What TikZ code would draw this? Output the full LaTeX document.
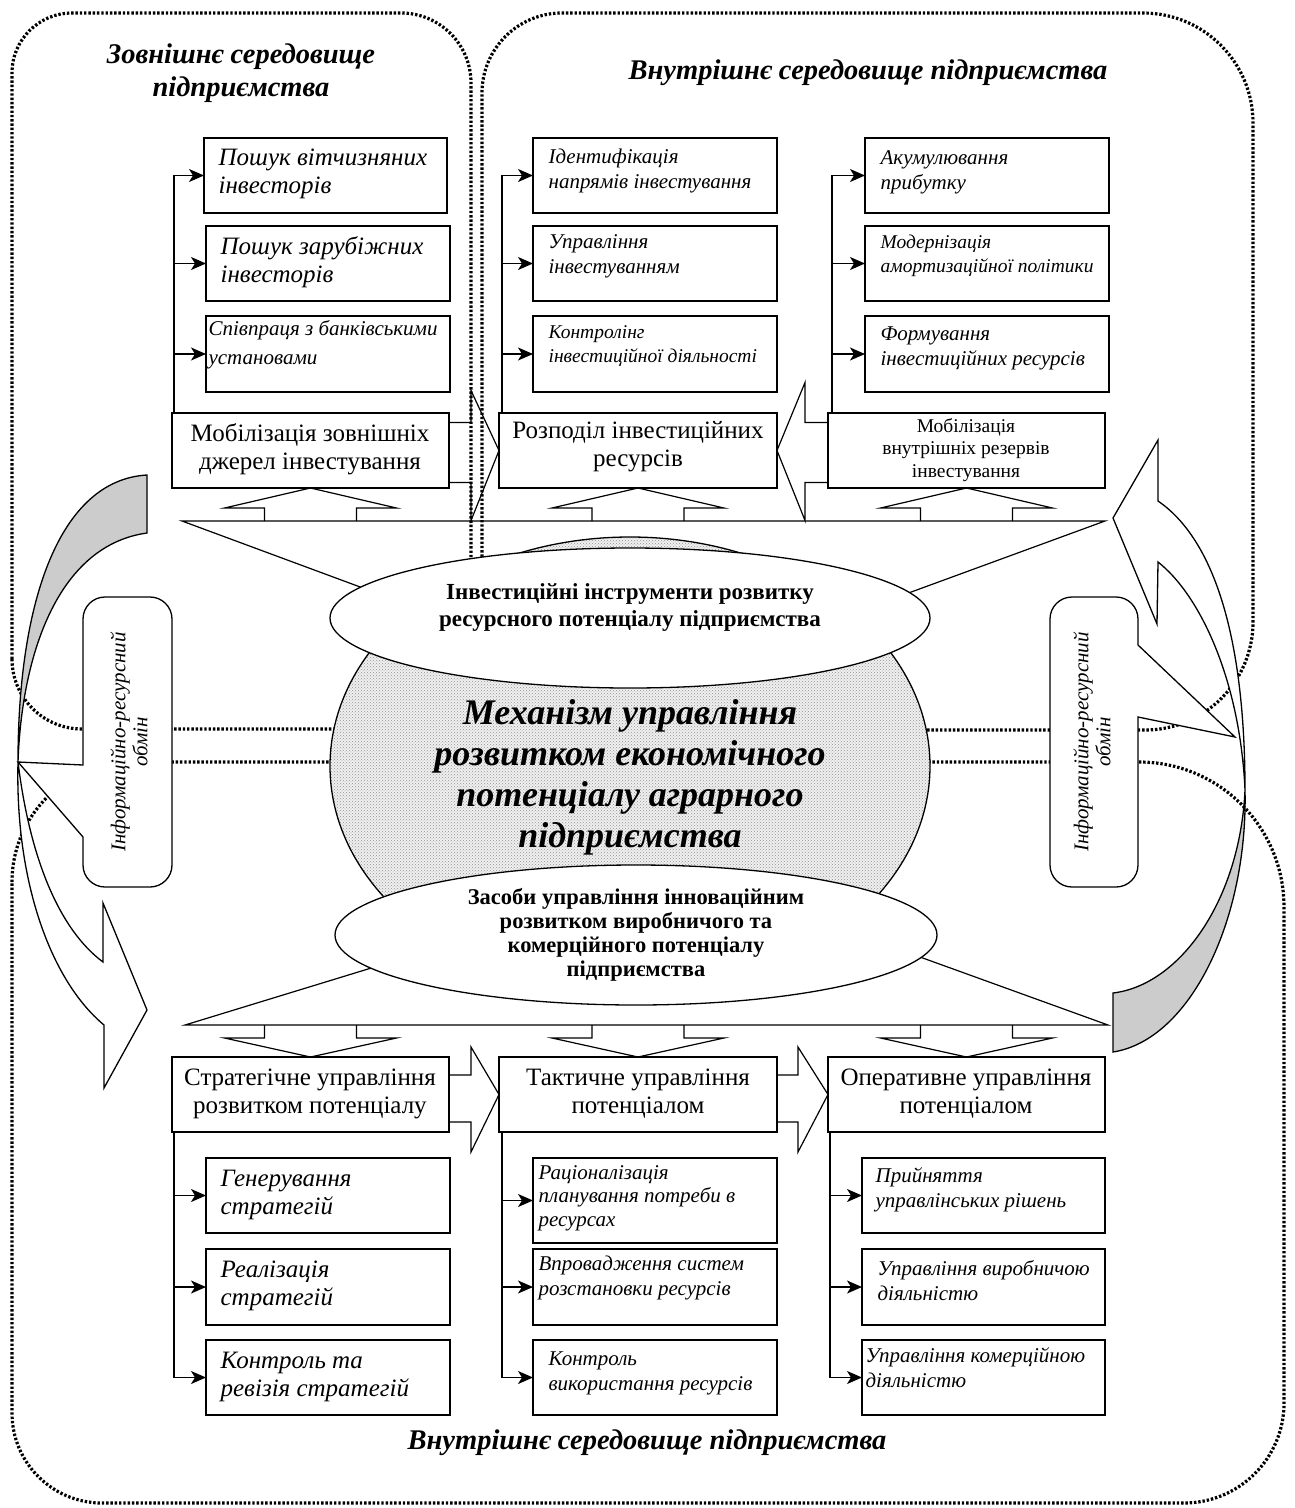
\documentclass[tikz,border=0pt]{standalone}
\usepackage{fontspec}
\setmainfont{Liberation Serif}
\usetikzlibrary{arrows.meta,patterns,shapes.geometric}
\newcommand\mybox[5]{\node[boxst,minimum width={(#4-#2)*1pt},minimum height={(#5-#3)*1pt}] (#1) at ({(#2+#4)/2},{(#3+#5)/2}) {};}
\begin{document}
\begin{tikzpicture}[x=1pt,y=-1pt,line width=1.2pt,
  region/.style={line width=3.2pt,line cap=butt,dash pattern=on 2.4pt off 1.9pt},
  boxst/.style={draw,fill=white,line width=1.7pt,inner sep=0pt,outer sep=0pt},
  heading/.style={inner sep=0pt,align=center,font=\fontsize{28.5}{33}\selectfont\bfseries\itshape},
  maintext/.style={inner sep=0pt,align=center,font=\fontsize{25}{28}\selectfont},
  maintextsm/.style={inner sep=0pt,align=center,font=\fontsize{19.5}{22.5}\selectfont},
  subA/.style={anchor=west,inner sep=0pt,align=left,font=\fontsize{25}{28.5}\selectfont\itshape},
  subB/.style={anchor=west,inner sep=0pt,align=left,font=\fontsize{21}{25}\selectfont\itshape},
  conn/.style={line width=1.3pt,-{Stealth[length=15pt,width=13pt,inset=4pt]}},
  blk/.style={line width=1.2pt},
  ellst/.style={ellipse,draw,fill=white,line width=1.3pt,inner sep=0pt,outer sep=0pt},
  infotext/.style={rotate=90,inner sep=0pt,align=center,font=\fontsize{21}{22}\selectfont\itshape},
]
\useasboundingbox (0,0) rectangle (1294,1508);

% ---------- dotted regions ----------
\draw[region] (12,659) -- (12,73) arc[start angle=180,end angle=270,radius=60]
  -- (401,13) arc[start angle=270,end angle=360,radius=70]
  -- (471,659) arc[start angle=0,end angle=90,radius=70]
  -- (82,729) arc[start angle=90,end angle=180,radius=70] -- cycle;
\draw[region] (482,660) -- (482,93) arc[start angle=180,end angle=270,radius=80]
  -- (1143,13) arc[start angle=270,end angle=360,radius=110]
  -- (1253,622) arc[start angle=0,end angle=90,radius=108]
  -- (552,730) arc[start angle=90,end angle=180,radius=70] -- cycle;
\draw[region] (12,882) arc[start angle=180,end angle=270,radius=120]
  -- (1139,762) arc[start angle=270,end angle=360,radius=145]
  -- (1284,1403) arc[start angle=0,end angle=90,radius=100]
  -- (102,1503) arc[start angle=90,end angle=180,radius=90] -- cycle;

% ---------- funnels ----------
\coordinate (ut1) at (182,521); \coordinate (ut2) at (1105,521); \coordinate (uta) at (641,691);
\coordinate (lt1) at (185,1025); \coordinate (lt2) at (1108,1025); \coordinate (lta) at (685,872);
\draw[blk] (uta) -- (ut1) -- (ut2) -- cycle;
\draw[blk] (lta) -- (lt1) -- (lt2) -- cycle;

% ---------- central blob and ellipses ----------
\node[ellipse,draw,line width=1.3pt,minimum width=600pt,minimum height=458pt,inner sep=0pt,outer sep=0pt,
  preaction={fill=gray!12},pattern=crosshatch dots,pattern color=gray!85] (blob) at (630,766) {};
\node[ellst,minimum width=600pt,minimum height=140pt] (el1) at (630,618) {};
\node[ellst,minimum width=602pt,minimum height=140pt] (el2) at (636,935) {};
\node[inner sep=0pt,align=center,font=\fontsize{23}{27}\selectfont\bfseries] (el1t) at (630,607)
  {Інвестиційні інструменти розвитку\\ресурсного потенціалу підприємства};
\node[inner sep=0pt,align=center,font=\fontsize{22.5}{24}\selectfont\bfseries] (el2t) at (636,935)
  {Засоби управління інноваційним\\розвитком виробничого та\\комерційного потенціалу\\підприємства};
\node[inner sep=0pt,align=center,font=\fontsize{36}{41}\selectfont\bfseries\itshape] (ct) at (630,777)
  {Механізм управління\\розвитком економічного\\потенціалу аграрного\\підприємства};

% ---------- upper main boxes ----------
\mybox{m1}{172}{413}{449}{488}
\mybox{m2}{499}{413}{777}{488}
\mybox{m3}{828}{413}{1105}{488}
\node[maintext] (m1t) at (310,449) {Мобілізація зовнішніх\\джерел інвестування};
\node[maintext] (m2t) at (638,447) {Розподіл інвестиційних\\ресурсів};
\node[maintextsm] (m3t) at (966,450) {Мобілізація\\внутрішніх резервів\\інвестування};

% upper sub boxes
\mybox{a1}{204}{138}{447}{213}
\mybox{a2}{206}{226}{450}{301}
\mybox{a3}{206}{316}{450}{392}
\mybox{b1}{533}{138}{777}{213}
\mybox{b2}{533}{226}{777}{301}
\mybox{b3}{533}{316}{777}{392}
\mybox{c1}{865}{138}{1109}{213}
\mybox{c2}{865}{226}{1109}{301}
\mybox{c3}{865}{316}{1109}{392}
\node[subA] (a1t) at (218,174) {Пошук вітчизняних\\інвесторів};
\node[subA] (a2t) at (220,262) {Пошук зарубіжних\\інвесторів};
\node[subB,font=\fontsize{21}{29}\selectfont\itshape] (a3t) at (208,345) {Співпраця з банківськими\\установами};
\node[subB] (b1t) at (548,171) {Ідентифікація\\напрямів інвестування};
\node[subB] (b2t) at (548,256) {Управління\\інвестуванням};
\node[subB,font=\fontsize{19.5}{24}\selectfont\itshape] (b3t) at (548,346) {Контролінг\\інвестиційної діяльності};
\node[subB] (c1t) at (880,172) {Акумулювання\\прибутку};
\node[subB,font=\fontsize{19.5}{24}\selectfont\itshape] (c2t) at (880,256) {Модернізація\\амортизаційної політики};
\node[subB] (c3t) at (880,348) {Формування\\інвестиційних ресурсів};

\coordinate (ta) at (174,0); \coordinate (tb) at (502,0); \coordinate (tc) at (832,0);
\draw[conn] (ta |- m1.north) -- (ta |- a1.west) -- (a1.west);
\draw[conn] (ta |- a2.west) -- (a2.west);
\draw[conn] (ta |- a3.west) -- (a3.west);
\draw[conn] (tb |- m2.north) -- (tb |- b1.west) -- (b1.west);
\draw[conn] (tb |- b2.west) -- (b2.west);
\draw[conn] (tb |- b3.west) -- (b3.west);
\draw[conn] (tc |- m3.north) -- (tc |- c1.west) -- (c1.west);
\draw[conn] (tc |- c2.west) -- (c2.west);
\draw[conn] (tc |- c3.west) -- (c3.west);

% upper block arrows (up from funnel)
\foreach \n in {m1,m2,m3}{
  \draw[blk] (\n.south) ++(-46,33) -- ++(0,-13) -- ++(-40,0) -- (\n.south) -- ++(86,20) -- ++(-40,0) -- ++(0,13);
}
% horizontal block arrows (upper)
\draw[blk] (m1.east) ++(0,-28) -- ++(22,0) -- ++(0,-32) -- (m2.west) -- ++(-28,70) -- ++(0,-38) -- ++(-22,0);
\draw[blk] (m3.west) ++(0,-28) -- ++(-23,0) -- ++(0,-40) -- (m2.east) -- ++(28,70) -- ++(0,-38) -- ++(23,0);

% ---------- lower main boxes ----------
\mybox{s1}{172}{1057}{449}{1132}
\mybox{s2}{499}{1057}{777}{1132}
\mybox{s3}{828}{1057}{1105}{1132}
\node[maintext] (s1t) at (310,1094) {Стратегічне управління\\розвитком потенціалу};
\node[maintext] (s2t) at (638,1094) {Тактичне управління\\потенціалом};
\node[maintext] (s3t) at (966,1094) {Оперативне управління\\потенціалом};

\mybox{d1}{206}{1158}{450}{1233}
\mybox{d2}{206}{1249}{450}{1325}
\mybox{d3}{206}{1340}{450}{1415}
\mybox{e1}{533}{1158}{777}{1243}
\mybox{e2}{533}{1249}{777}{1325}
\mybox{e3}{533}{1340}{777}{1415}
\mybox{f1}{862}{1158}{1105}{1233}
\mybox{f2}{862}{1249}{1105}{1325}
\mybox{f3}{862}{1340}{1105}{1415}
\node[subA] (d1t) at (220,1195) {Генерування\\стратегій};
\node[subA] (d2t) at (220,1286) {Реалізація\\стратегій};
\node[subA] (d3t) at (220,1377) {Контроль та\\ревізія стратегій};
\node[subB,font=\fontsize{21}{23.5}\selectfont\itshape] (e1t) at (538,1198) {Раціоналізація\\планування потреби в\\ресурсах};
\node[subB] (e2t) at (538,1278) {Впровадження систем\\розстановки ресурсів};
\node[subB] (e3t) at (548,1373) {Контроль\\використання ресурсів};
\node[subB] (f1t) at (875,1190) {Прийняття\\управлінських рішень};
\node[subB] (f2t) at (877,1281) {Управління виробничою\\діяльністю};
\node[subB] (f3t) at (865,1368) {Управління комерційною\\діяльністю};

\coordinate (td) at (174,0); \coordinate (te) at (502,0); \coordinate (tf) at (830,0);
\draw[conn] (td |- s1.south) -- (td |- d3.west) -- (d3.west);
\draw[conn] (td |- d1.west) -- (d1.west);
\draw[conn] (td |- d2.west) -- (d2.west);
\draw[conn] (te |- s2.south) -- (te |- e3.west) -- (e3.west);
\draw[conn] (te |- e1.west) -- (e1.west);
\draw[conn] (te |- e2.west) -- (e2.west);
\draw[conn] (tf |- s3.south) -- (tf |- f3.west) -- (f3.west);
\draw[conn] (tf |- f1.west) -- (f1.west);
\draw[conn] (tf |- f2.west) -- (f2.west);

% lower block arrows (down from funnel)
\foreach \n in {s1,s2,s3}{
  \draw[blk] (\n.north) ++(-46,-32) -- ++(0,13) -- ++(-40,0) -- (\n.north) -- ++(86,-19) -- ++(-40,0) -- ++(0,-13);
}
\draw[blk] (s1.east) ++(0,-19.5) -- ++(22,0) -- ++(0,-28) -- (s2.west) -- ++(-28,57.5) -- ++(0,-30) -- ++(-22,0);
\draw[blk] (s2.east) ++(0,-19.5) -- ++(21,0) -- ++(0,-28) -- (s3.west) -- ++(-30,57.5) -- ++(0,-30) -- ++(-21,0);

% ---------- info boxes ----------
\draw[fill=white,line width=1.3pt] (83,765) -- (18,762) -- (83,837) -- (83,865)
  arc[start angle=180,end angle=90,radius=22] -- (150,887)
  arc[start angle=90,end angle=0,radius=22] -- (172,619)
  arc[start angle=0,end angle=-90,radius=22] -- (105,597)
  arc[start angle=-90,end angle=-180,radius=22] -- cycle;
\node[infotext] (info1) at (129,742) {Інформаційно-ресурсний\\обмін};
\draw[fill=white,line width=1.3pt] (1138,645) -- (1235,737) -- (1138,717) -- (1138,865)
  arc[start angle=0,end angle=90,radius=22] -- (1072,887)
  arc[start angle=90,end angle=180,radius=22] -- (1050,619)
  arc[start angle=180,end angle=270,radius=22] -- (1116,597)
  arc[start angle=270,end angle=360,radius=22] -- cycle;
\node[infotext] (info2) at (1092,742) {Інформаційно-ресурсний\\обмін};

% ---------- curved arrows ----------
\draw[fill=gray!40,line width=1.3pt] (147,475) .. controls (60,480) and (18,600) .. (18,762)
  .. controls (22,650) and (60,545) .. (147,533) -- cycle;
\draw[fill=white,line width=1.3pt] (18,762) .. controls (15,880) and (50,980) .. (104,1025)
  -- (104,1088) -- (147,1010) -- (103,903) -- (103,962)
  .. controls (60,930) and (30,860) .. (18,762) -- cycle;
\draw[fill=white,line width=1.3pt] (1245,790) .. controls (1245,640) and (1215,540) .. (1158,501)
  -- (1158,440) -- (1113,518) -- (1157,624) -- (1158,562)
  .. controls (1200,595) and (1240,680) .. (1245,790) -- cycle;
\draw[fill=gray!40,line width=1.3pt] (1245,790) .. controls (1248,920) and (1190,1040) .. (1113,1052)
  -- (1113,993) .. controls (1180,985) and (1240,900) .. (1245,790) -- cycle;

% ---------- headings ----------
\node[heading] (h1) at (241,73) {Зовнішнє середовище\\підприємства};
\node[heading] (h2) at (868,73) {Внутрішнє середовище підприємства};
\node[heading] (h3) at (647,1443) {Внутрішнє середовище підприємства};
\end{tikzpicture}
\end{document}
